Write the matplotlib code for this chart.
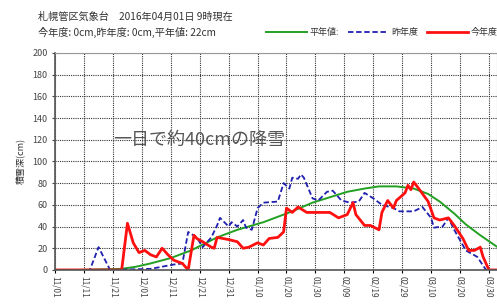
import numpy as np
import matplotlib.pyplot as plt

plt.rcParams['font.family'] = ['Noto Sans CJK JP', 'DejaVu Sans']

# 11/01 からの経過日数と積雪深(cm)
this_days = [0, 23, 25, 27, 29, 31, 33, 35, 37, 39, 41, 44, 46, 48, 49, 51, 54, 55,
             56, 60, 63, 65, 67, 70, 72, 74, 77, 79, 80, 82, 84, 87, 91, 92, 95, 98,
             101, 103, 104, 107, 109, 112, 113, 115, 117, 118, 121, 122, 123, 124,
             126, 129, 131, 133, 136, 138, 141, 143, 145, 147, 148, 150, 153]
this_depth = [0, 0, 43, 25, 16, 18, 14, 12, 20, 14, 9, 6, 0, 32, 29, 26, 21, 20,
              30, 28, 26, 20, 21, 25, 23, 29, 30, 35, 57, 53, 58, 53, 53, 53, 53, 48,
              51, 62, 51, 41, 41, 37, 53, 64, 57, 64, 71, 78, 74, 81,
              74, 63, 48, 46, 48, 41, 29, 18, 18, 21, 12, 0, 0]

last_days = [8, 12, 15, 19, 33, 41, 44, 46, 49, 51, 54, 56, 57, 60, 61, 63, 65, 66,
             68, 70, 72, 77, 79, 81, 82, 84, 85, 86, 89, 91, 94, 96, 99, 102, 105,
             107, 110, 113, 117, 119, 124, 127, 130, 131, 134, 136, 138, 142, 146, 149, 153]
last_depth = [0, 0, 21, 0, 1, 5, 6, 35, 30, 21, 30, 41, 48, 40, 44, 40, 46, 39,
              37, 57, 62, 63, 80, 75, 85, 84, 88, 85, 66, 64, 72, 73, 64, 62, 63,
              71, 66, 60, 57, 54, 54, 58, 48, 39, 40, 48, 37, 18, 12, 0, 0]

norm_days = [8, 23, 28, 33, 40, 47, 56, 63, 72, 81, 89, 95, 101, 107, 112, 118, 124,
             129, 133, 138, 142, 147, 153]
norm_depth = [0, 1, 3, 6, 11, 18, 30, 37, 44, 53, 62, 67, 72, 75, 77, 77, 75,
              70, 63, 52, 42, 32, 21]

tick_labels = ['11/01', '11/11', '11/21', '12/01', '12/11', '12/21', '12/31', '01/10',
               '01/20', '01/30', '02/09', '02/19', '02/29', '03/10', '03/20', '03/30']

fig = plt.figure(figsize=(4.97, 3.04), dpi=100)
ax = fig.add_axes([0.111, 0.112, 0.889, 0.714])

ax.plot(norm_days, norm_depth, color='#22a022', lw=1.4, label='平年値:')
ax.plot(last_days, last_depth, color='#2020b0', lw=1.3, ls=(0, (3, 1.5)), label='昨年度')
ax.plot(this_days, this_depth, color='#ff1010', lw=2.0, label='今年度')

ax.set_xlim(0, 152.8)
ax.set_ylim(0, 200)
ax.set_yticks(np.arange(0, 201, 20))
ax.set_xticks(np.arange(0, 151, 10))
ax.set_xticklabels(tick_labels, rotation=-90, fontsize=6, color='#444')
ax.tick_params(axis='y', labelsize=6.5, colors='#444', length=2)
ax.tick_params(axis='x', length=2, pad=2)
ax.grid(True, color='#333', ls=(0, (1, 1)), lw=0.8)
for s in ['top', 'right']:
    ax.spines[s].set_color('#999')
for s in ['left', 'bottom']:
    ax.spines[s].set_color('#555')
    ax.spines[s].set_linewidth(1.2)

ax.set_ylabel('積雪深(cm)', fontsize=6.5, color='#333', labelpad=5)

ax.text(20, 120, '一日で約40cmの降雪', fontsize=13, color='#555', va='center', ha='left')

fig.text(0.077, 0.945, '札幌管区気象台　2016年04月01日 9時現在', fontsize=7.3, color='#333', va='center')
fig.text(0.077, 0.893, '今年度: 0cm,昨年度: 0cm,平年値: 22cm', fontsize=7.3, color='#333', va='center')

fig.legend(loc='center left', bbox_to_anchor=(0.535, 0.893), ncol=3, frameon=False,
           fontsize=6.5, handlelength=4.5, columnspacing=1.0, handletextpad=0.3,
           borderaxespad=0.0, borderpad=0.0, labelcolor='#333')

fig.savefig('out.png', dpi=100)
